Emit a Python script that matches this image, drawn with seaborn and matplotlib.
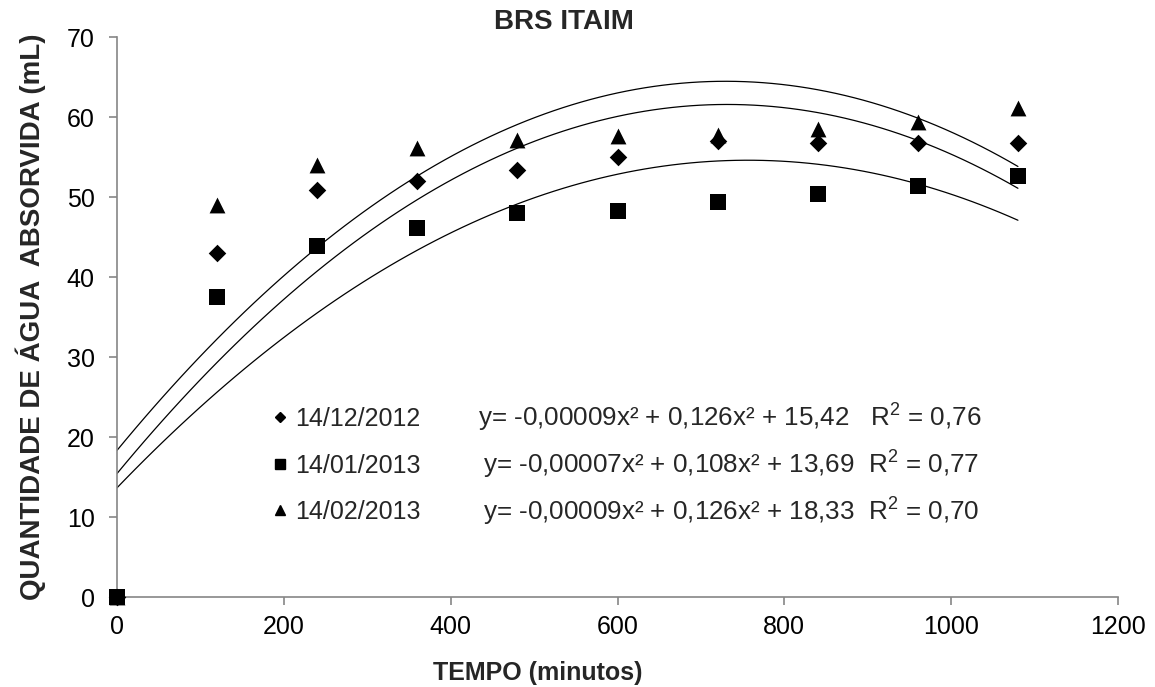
import matplotlib
matplotlib.use("Agg")
import matplotlib.pyplot as plt
from matplotlib.lines import Line2D
import numpy as np
import pandas as pd
import seaborn as sns

# tempo (minutos)
tempo = [0, 120, 240, 360, 480, 600, 720, 840, 960, 1080]

# agua absorvida (mL) por data de colheita
dez_2012 = [0, 43.0, 50.9, 52.0, 53.4, 55.0, 57.0, 56.8, 56.8, 56.8]
jan_2013 = [0, 37.5, 43.9, 46.1, 48.0, 48.2, 49.4, 50.4, 51.4, 52.6]
fev_2013 = [0, 49.0, 54.0, 56.1, 57.1, 57.6, 57.8, 58.5, 59.4, 61.1]

datas = ['14/12/2012', '14/01/2013', '14/02/2013']
equacoes = ['y= -0,00009x² + 0,126x² + 15,42   R$^2$ = 0,76',
            'y= -0,00007x² + 0,108x² + 13,69  R$^2$ = 0,77',
            'y= -0,00009x² + 0,126x² + 18,33  R$^2$ = 0,70']
marcadores = {'14/12/2012': 'D', '14/01/2013': 's', '14/02/2013': '^'}
tamanhos = {'14/12/2012': 80, '14/01/2013': 140, '14/02/2013': 130}

df = pd.DataFrame({
    'tempo': tempo * 3,
    'agua': dez_2012 + jan_2013 + fev_2013,
    'data': [d for d in datas for _ in tempo],
})

sns.set_style('white')
plt.rcParams['font.family'] = ['Liberation Sans', 'DejaVu Sans']
plt.rcParams['mathtext.fontset'] = 'custom'
plt.rcParams['mathtext.rm'] = 'Liberation Sans'

fig = plt.figure(figsize=(11.55, 6.87), dpi=100)
ax = fig.add_axes([0.1013, 0.131, 0.8667, 0.815])

# pontos + curva de tendencia polinomial (ordem 2) para cada data
for d in datas:
    sub = df[df['data'] == d]
    sns.regplot(data=sub, x='tempo', y='agua', order=2, ci=None, scatter=False,
                ax=ax, line_kws=dict(color='black', linewidth=0.9))
    sns.scatterplot(data=sub, x='tempo', y='agua', marker=marcadores[d], s=tamanhos[d],
                    color='black', edgecolor='black', linewidth=0, ax=ax, legend=False,
                    clip_on=False, zorder=5)

ax.set_xlim(0, 1200)
ax.set_ylim(0, 70)
ax.set_xticks(range(0, 1201, 200))
ax.set_yticks(range(0, 71, 10))
for s in ['top', 'right']:
    ax.spines[s].set_visible(False)
for s in ['left', 'bottom']:
    ax.spines[s].set_color('#868686')
    ax.spines[s].set_linewidth(1.2)
ax.tick_params(axis='both', which='major', direction='out', length=6, width=1.2,
               color='#868686', labelsize=18, labelcolor='black', left=True, bottom=True)
ax.tick_params(axis='y', pad=10)
ax.tick_params(axis='x', pad=7)

ax.set_xlabel('TEMPO (minutos)', fontsize=18, fontweight='bold', labelpad=16, x=0.42)
ax.set_ylabel('QUANTIDADE DE ÁGUA  ABSORVIDA (mL)', fontsize=20, fontweight='bold', labelpad=15)
ax.set_title('BRS ITAIM', fontsize=20, fontweight='bold', pad=6, x=0.446)

handles = [Line2D([], [], marker=marcadores[d], linestyle='', color='black',
                  markersize=7 if marcadores[d] != 'D' else 5) for d in datas]
ax.legend(handles, datas, loc='upper left', bbox_to_anchor=(0.14, 0.357), frameon=False,
          fontsize=18, handletextpad=0.1, handlelength=1.0, labelspacing=0.9, borderaxespad=0)

eq_x = [0.361, 0.366, 0.366]
for i, eq in enumerate(equacoes):
    ax.text(eq_x[i], 0.322 - i * 0.084, eq, transform=ax.transAxes, fontsize=18.7,
            va='center', ha='left')

fig.savefig('out.png', dpi=100)
